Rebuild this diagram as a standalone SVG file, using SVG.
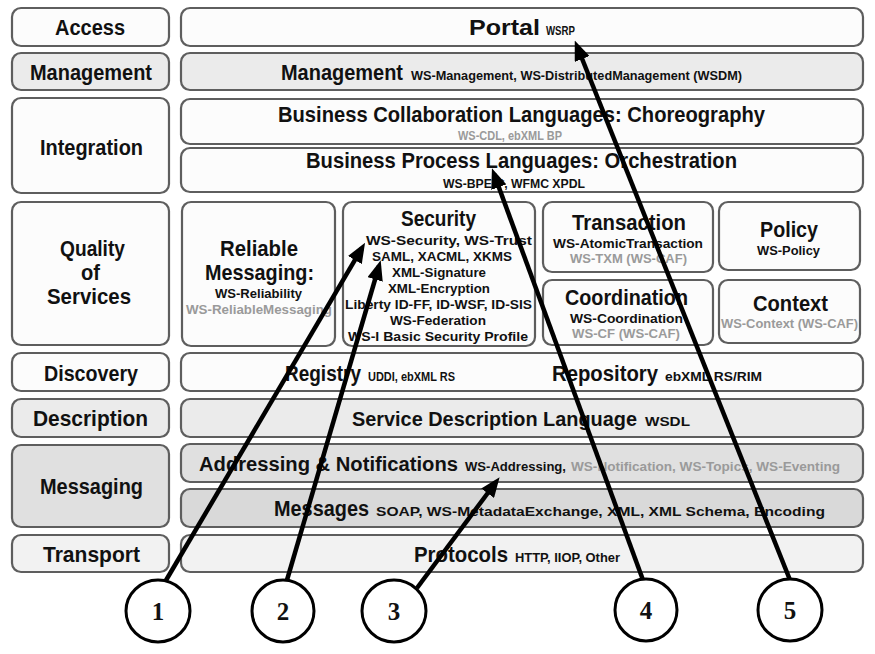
<svg xmlns="http://www.w3.org/2000/svg" width="875" height="654" viewBox="0 0 875 654">
<defs>
<style>
.bx{stroke:#5e5e5e;stroke-width:2.2}
.w{fill:#fcfcfc}.g1{fill:#ebebeb}.g2{fill:#e0e0e0}.g3{fill:#d9d9d9}.g4{fill:#f2f2f2}
text{font-family:"Liberation Sans",Arial,sans-serif;font-weight:bold;fill:#111}
.L{font-size:22px}
.M{font-size:20px}
.s{font-size:12.5px}
.q{font-size:13.5px}
.gr{fill:#9a9a9a}
.num{font-family:"Liberation Serif","Times New Roman",serif;font-size:25px;text-anchor:middle}
.ar{stroke:#000;stroke-width:4.5;fill:none;marker-end:url(#ah)}
.c{fill:#fff;stroke:#000;stroke-width:3}
</style>
<marker id="ah" markerUnits="userSpaceOnUse" markerWidth="20" markerHeight="16" viewBox="0 0 20 16" refX="14" refY="8" orient="auto">
<path d="M0,0 L20,8 L0,16 Z" fill="#000"/>
</marker>
</defs>
<rect width="875" height="654" fill="#fff"/>

<g id="left-labels">
<g id="access-l"><rect class="bx w" x="12" y="8" width="157" height="38" rx="9"/><text class="L" x="55" y="35" textLength="70" lengthAdjust="spacingAndGlyphs">Access</text></g>
<g id="management-l"><rect class="bx g1" x="12" y="53" width="157" height="37" rx="9"/><text class="L" x="30" y="80" textLength="122" lengthAdjust="spacingAndGlyphs">Management</text></g>
<g id="integration-l"><rect class="bx w" x="12" y="98" width="157" height="95" rx="9"/><text class="L" x="40" y="155" textLength="103" lengthAdjust="spacingAndGlyphs">Integration</text></g>
<g id="qos-l"><rect class="bx w" x="12" y="202" width="157" height="143" rx="9"/>
<text class="L" x="60" y="256" textLength="65" lengthAdjust="spacingAndGlyphs">Quality</text>
<text class="L" x="81" y="280" textLength="19" lengthAdjust="spacingAndGlyphs">of</text>
<text class="L" x="47" y="304" textLength="84" lengthAdjust="spacingAndGlyphs">Services</text></g>
<g id="discovery-l"><rect class="bx w" x="12" y="353" width="157" height="38" rx="9"/><text class="L" x="44" y="381" textLength="94" lengthAdjust="spacingAndGlyphs">Discovery</text></g>
<g id="description-l"><rect class="bx g1" x="12" y="399" width="157" height="38" rx="9"/><text class="L" x="33" y="426" textLength="115" lengthAdjust="spacingAndGlyphs">Description</text></g>
<g id="messaging-l"><rect class="bx g2" x="12" y="445" width="157" height="82" rx="9"/><text class="L" x="40" y="494" textLength="103" lengthAdjust="spacingAndGlyphs">Messaging</text></g>
<g id="transport-l"><rect class="bx g4" x="12" y="535" width="157" height="37" rx="9"/><text class="L" x="43" y="562" textLength="97" lengthAdjust="spacingAndGlyphs">Transport</text></g>
</g>

<g id="portal"><rect class="bx w" x="181" y="8" width="682" height="38" rx="9"/>
<text class="L" x="469" y="35" textLength="71" lengthAdjust="spacingAndGlyphs">Portal</text>
<text class="s" x="546" y="35" textLength="29" lengthAdjust="spacingAndGlyphs">WSRP</text></g>

<g id="management"><rect class="bx g1" x="181" y="53" width="682" height="37" rx="9"/>
<text class="L" x="281" y="80" textLength="122" lengthAdjust="spacingAndGlyphs">Management</text>
<text class="s" x="411" y="80" textLength="331" lengthAdjust="spacingAndGlyphs">WS-Management, WS-DistributedManagement (WSDM)</text></g>

<g id="choreography"><rect class="bx w" x="181" y="99" width="682" height="45" rx="9"/>
<text class="L" x="278" y="122" textLength="487" lengthAdjust="spacingAndGlyphs">Business Collaboration Languages: Choreography</text>
<text class="s gr" x="458" y="140" textLength="104" lengthAdjust="spacingAndGlyphs">WS-CDL, ebXML BP</text></g>

<g id="orchestration"><rect class="bx w" x="181" y="148" width="682" height="44" rx="9"/>
<text class="L" x="306" y="168" textLength="431" lengthAdjust="spacingAndGlyphs">Business Process Languages: Orchestration</text>
<text class="s" x="443" y="188" textLength="142" lengthAdjust="spacingAndGlyphs">WS-BPEL*, WFMC XPDL</text></g>

<g id="reliable"><rect class="bx w" x="182" y="202" width="153" height="144" rx="9"/>
<text class="L" x="220" y="256" textLength="78" lengthAdjust="spacingAndGlyphs">Reliable</text>
<text class="L" x="205" y="280" textLength="109" lengthAdjust="spacingAndGlyphs">Messaging:</text>
<text class="q" x="215" y="298" textLength="87" lengthAdjust="spacingAndGlyphs">WS-Reliability</text>
<text class="q gr" x="186" y="314" textLength="146" lengthAdjust="spacingAndGlyphs">WS-ReliableMessaging</text></g>

<g id="security"><rect class="bx w" x="343" y="202" width="192" height="144" rx="9"/>
<text class="L" x="401" y="226" textLength="75" lengthAdjust="spacingAndGlyphs">Security</text>
<text class="q" x="366" y="245" textLength="166" lengthAdjust="spacingAndGlyphs">WS-Security, WS-Trust</text>
<text class="q" x="372" y="261" textLength="140" lengthAdjust="spacingAndGlyphs">SAML, XACML, XKMS</text>
<text class="q" x="392" y="277" textLength="94" lengthAdjust="spacingAndGlyphs">XML-Signature</text>
<text class="q" x="388" y="293" textLength="102" lengthAdjust="spacingAndGlyphs">XML-Encryption</text>
<text class="q" x="345" y="309" textLength="187" lengthAdjust="spacingAndGlyphs">Liberty ID-FF, ID-WSF, ID-SIS</text>
<text class="q" x="390" y="325" textLength="96" lengthAdjust="spacingAndGlyphs">WS-Federation</text>
<text class="q" x="348" y="341" textLength="180" lengthAdjust="spacingAndGlyphs">WS-I Basic Security Profile</text></g>

<g id="transaction"><rect class="bx w" x="543" y="202" width="170" height="70" rx="9"/>
<text class="L" x="572" y="230" textLength="114" lengthAdjust="spacingAndGlyphs">Transaction</text>
<text class="q" x="553" y="248" textLength="150" lengthAdjust="spacingAndGlyphs">WS-AtomicTransaction</text>
<text class="q gr" x="570" y="263" textLength="117" lengthAdjust="spacingAndGlyphs">WS-TXM (WS-CAF)</text></g>

<g id="policy"><rect class="bx w" x="719" y="202" width="141" height="68" rx="9"/>
<text class="L" x="760" y="237" textLength="58" lengthAdjust="spacingAndGlyphs">Policy</text>
<text class="q" x="757" y="255" textLength="63" lengthAdjust="spacingAndGlyphs">WS-Policy</text></g>

<g id="coordination"><rect class="bx w" x="543" y="280" width="170" height="65" rx="9"/>
<text class="L" x="565" y="305" textLength="123" lengthAdjust="spacingAndGlyphs">Coordination</text>
<text class="q" x="570" y="323" textLength="113" lengthAdjust="spacingAndGlyphs">WS-Coordination</text>
<text class="q gr" x="572" y="338" textLength="108" lengthAdjust="spacingAndGlyphs">WS-CF (WS-CAF)</text></g>

<g id="context"><rect class="bx w" x="719" y="280" width="141" height="63" rx="9"/>
<text class="L" x="753" y="311" textLength="75" lengthAdjust="spacingAndGlyphs">Context</text>
<text class="q gr" x="721" y="328" textLength="137" lengthAdjust="spacingAndGlyphs">WS-Context (WS-CAF)</text></g>

<g id="discovery"><rect class="bx w" x="181" y="353" width="682" height="38" rx="9"/>
<text class="L" x="285" y="381" textLength="76" lengthAdjust="spacingAndGlyphs">Registry</text>
<text class="s" x="368" y="381" textLength="87" lengthAdjust="spacingAndGlyphs">UDDI, ebXML RS</text>
<text class="L" x="552" y="381" textLength="106" lengthAdjust="spacingAndGlyphs">Repository</text>
<text class="s" x="665" y="381" textLength="97" lengthAdjust="spacingAndGlyphs">ebXML RS/RIM</text></g>

<g id="description"><rect class="bx g1" x="181" y="399" width="682" height="38" rx="9"/>
<text class="M" x="352" y="426" textLength="285" lengthAdjust="spacingAndGlyphs">Service Description Language</text>
<text class="s" x="645" y="426" textLength="45" lengthAdjust="spacingAndGlyphs">WSDL</text></g>

<g id="addressing"><rect class="bx g2" x="181" y="444" width="682" height="38" rx="9"/>
<text class="M" x="199" y="471" textLength="259" lengthAdjust="spacingAndGlyphs">Addressing &amp; Notifications</text>
<text class="s" x="465" y="471" textLength="101" lengthAdjust="spacingAndGlyphs">WS-Addressing,</text>
<text class="s gr" x="571" y="471" textLength="269" lengthAdjust="spacingAndGlyphs">WS-Notification, WS-Topics, WS-Eventing</text></g>

<g id="messages"><rect class="bx g3" x="181" y="489" width="682" height="38" rx="9"/>
<text class="L" x="274" y="516" textLength="95" lengthAdjust="spacingAndGlyphs">Messages</text>
<text class="s" x="376" y="516" textLength="449" lengthAdjust="spacingAndGlyphs">SOAP, WS-MetadataExchange, XML, XML Schema, Encoding</text></g>

<g id="protocols"><rect class="bx g4" x="181" y="535" width="682" height="37" rx="9"/>
<text class="L" x="414" y="562" textLength="94" lengthAdjust="spacingAndGlyphs">Protocols</text>
<text class="s" x="515" y="562" textLength="105" lengthAdjust="spacingAndGlyphs">HTTP, IIOP, Other</text></g>

<g id="connectors">
<line class="ar" x1="165" y1="582" x2="362" y2="248"/>
<line class="ar" x1="287" y1="580" x2="379" y2="266"/>
<line class="ar" x1="417" y1="588" x2="496" y2="482"/>
<line class="ar" x1="643" y1="580" x2="494" y2="174"/>
<line class="ar" x1="790" y1="580" x2="577" y2="46"/>
</g>

<g id="c1"><ellipse class="c" cx="158" cy="611" rx="32" ry="31"/><text class="num" x="158" y="620">1</text></g>
<g id="c2"><ellipse class="c" cx="283" cy="611" rx="31" ry="31"/><text class="num" x="283" y="620">2</text></g>
<g id="c3"><ellipse class="c" cx="394" cy="611" rx="32" ry="31"/><text class="num" x="394" y="620">3</text></g>
<g id="c4"><ellipse class="c" cx="646" cy="610" rx="31" ry="31"/><text class="num" x="646" y="619">4</text></g>
<g id="c5"><ellipse class="c" cx="790" cy="610" rx="32" ry="31"/><text class="num" x="790" y="619">5</text></g>
</svg>
